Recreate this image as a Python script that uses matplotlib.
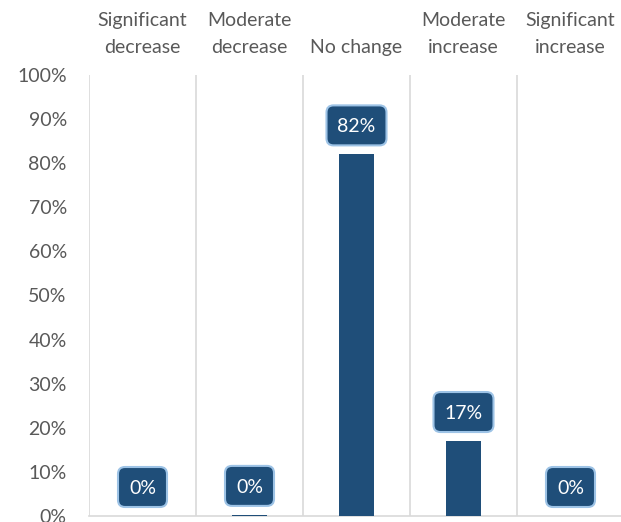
import matplotlib
matplotlib.use("Agg")
import matplotlib.pyplot as plt
from matplotlib.patches import FancyBboxPatch
from matplotlib.transforms import ScaledTranslation
from matplotlib.ticker import FuncFormatter

categories = ["Significant\ndecrease", "Moderate\ndecrease", "No change",
              "Moderate\nincrease", "Significant\nincrease"]
values = [0.0, 0.25, 82.0, 17.0, 0.0]
labels = ["0%", "0%", "82%", "17%", "0%"]
yticks = list(range(0, 101, 10))

plt.rcParams["font.family"] = ["Lato", "DejaVu Sans"]
gray = "#595959"
bar_color = "#1F4E79"

fig = plt.figure(figsize=(6.21, 5.22), dpi=100)
ax = fig.add_axes([89 / 621, 6 / 522, 535 / 621, 441 / 522])

x = range(len(categories))
ax.bar(x, values, width=0.32, color=bar_color, zorder=3)

# data labels: rounded boxes sized in inches, anchored on top of each bar
for xi, v, lab in zip(x, values, labels):
    tr = fig.dpi_scale_trans + ScaledTranslation(xi, v, ax.transData)
    w = 0.60 if len(lab) > 2 else 0.49
    h = 0.40
    cy = 0.29
    box = FancyBboxPatch((-w / 2, cy - h / 2), w, h,
                         boxstyle="round,pad=0,rounding_size=0.07",
                         fc=bar_color, ec="#9DC3E6", lw=1.5,
                         transform=tr, zorder=4, clip_on=False)
    ax.add_patch(box)
    ax.text(0, cy, lab, transform=tr, ha="center", va="center_baseline",
            fontsize=14, color="white", zorder=5)

ax.set_xlim(-0.5, 4.5)
ax.set_ylim(0, 100)
ax.set_yticks(yticks)
ax.yaxis.set_major_formatter(FuncFormatter(lambda v, _: f"{v:.0f}%"))
ax.set_xticks(list(x))
ax.set_xticklabels(categories, linespacing=1.7)
ax.xaxis.tick_top()
ax.tick_params(axis="both", length=0, labelsize=14, colors=gray)
ax.tick_params(axis="y", pad=16)
ax.tick_params(axis="x", pad=14)

for b in [i - 0.5 for i in range(6)]:
    ax.axvline(b, color="#D9D9D9", lw=1.2, zorder=1)
for s in ["top", "right", "left"]:
    ax.spines[s].set_visible(False)
ax.spines["bottom"].set_color("#D9D9D9")
ax.spines["bottom"].set_linewidth(1.2)

fig.savefig("out.png", dpi=100)
